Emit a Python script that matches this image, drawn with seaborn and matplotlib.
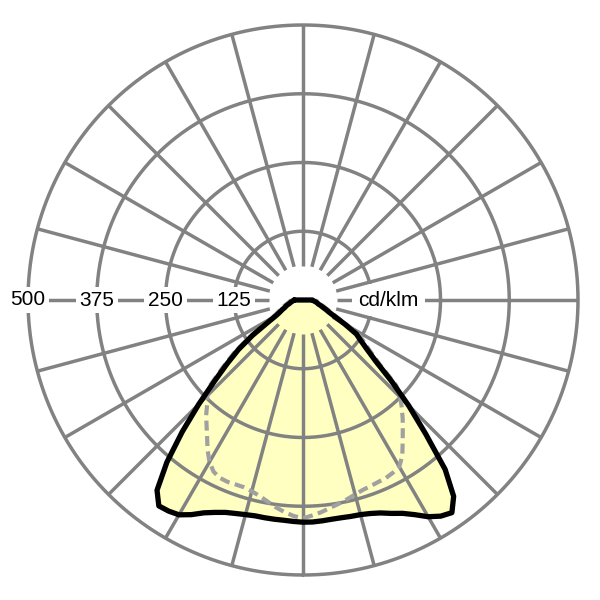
import numpy as np
import pandas as pd
import matplotlib
matplotlib.use("Agg")
import matplotlib.pyplot as plt
import seaborn as sns

# gamma angles (deg from nadir, negative = left side)
angles_deg = [-90, -87.5, -85, -82.5, -80, -77.5, -75, -72.5, -70, -67.5,
              -65, -62.5, -60, -57.5, -55, -52.5, -50, -47.5, -45, -42.5,
              -40, -37.5, -35, -32.5, -30, -27.5, -25, -22.5, -20, -17.5,
              -15, -12.5, -10, -7.5, -5, -2.5, 0, 2.5, 5, 7.5,
              10, 12.5, 15, 17.5, 20, 22.5, 25, 27.5, 30, 32.5,
              35, 37.5, 40, 42.5, 45, 47.5, 50, 52.5, 55, 57.5,
              60, 62.5, 65, 67.5, 70, 72.5, 75, 77.5, 80, 82.5,
              85, 87.5, 90]

# C0-C180 plane (solid, filled)
c0_c180 = [16, 17, 19, 20, 22, 24, 26, 30, 33, 36,
           42, 47, 56, 76, 112, 148, 180, 218, 268, 325,
           385, 436, 457, 455, 451, 440, 427, 418, 411, 407,
           404, 402, 402, 402, 402, 403, 404, 404, 403, 402,
           402, 403, 404, 407, 412, 420, 428, 440, 455, 466,
           472, 450, 402, 330, 272, 218, 172, 146, 128, 115,
           88, 65, 52, 45, 38, 34, 29, 27, 25, 22,
           20, 18, 17]

# C90-C270 plane (dashed)
c90_c270 = [21, 22, 24, 25, 27, 29, 32, 36, 39, 43,
            49, 55, 65, 85, 121, 158, 190, 228, 246, 258,
            274, 288, 304, 323, 340, 352, 357, 358, 357, 357,
            360, 365, 372, 380, 387, 393, 397, 392, 387, 381,
            376, 371, 366, 362, 360, 358, 357, 354, 350, 336,
            316, 298, 282, 266, 250, 230, 182, 155, 137, 124,
            97, 74, 60, 52, 45, 40, 35, 32, 30, 27,
            25, 23, 22]

ring_values = [125, 250, 375, 500]
ring_labels = ["125", "250", "375", "500"]
unit_label = "cd/klm"

GRID = "#828282"
FILL = "#ffffc2"

sns.set_theme(style="white")
plt.rcParams["font.family"] = ["Liberation Sans", "DejaVu Sans"]

df = pd.DataFrame({
    "theta": np.deg2rad(angles_deg),
    "c0": c0_c180,
    "c90": c90_c270,
})

# close the C0-C180 outline across the top (-90 deg == 270 deg)
closed = pd.concat([df, df.iloc[[0]].assign(theta=df["theta"].iloc[0] + 2 * np.pi)],
                   ignore_index=True)

fig = plt.figure(figsize=(6, 6), dpi=100)
ax = fig.add_axes([28 / 600, 25 / 600, 550 / 600, 550 / 600], projection="polar")
ax.set_theta_zero_location("S")
ax.set_theta_direction(1)
ax.grid(False)
ax.set_xticks([])
ax.set_yticks([])
ax.spines["polar"].set_visible(False)
ax.set_facecolor("white")

# light distribution fill
ax.fill(df["theta"], df["c0"], color=FILL, zorder=0.5, lw=0)

# rings
circ = np.linspace(0, 2 * np.pi, 721)
for r in ring_values:
    ax.plot(circ, np.full_like(circ, r), color=GRID, lw=2.5, zorder=1, clip_on=False)

# spokes every 15 degrees, starting off-centre
for a in range(0, 360, 15):
    z = 1 if a in (90, 270) else 2.5
    ax.plot([np.deg2rad(a)] * 2, [62.5, 500], color=GRID, lw=2.5, zorder=z,
            clip_on=False, solid_capstyle="butt")

# scale labels on the left, unit on the right
for r, lab in zip(ring_values, ring_labels):
    ax.text(np.deg2rad(-90), r, lab, ha="center", va="center", fontsize=15,
            color="black", zorder=2,
            bbox=dict(fc="white", ec="none", boxstyle="square,pad=0.18"))
ax.text(np.deg2rad(90), 155, unit_label, ha="center", va="center", fontsize=15,
        color="black", zorder=2,
        bbox=dict(fc="white", ec="none", boxstyle="square,pad=0.3"))

sns.lineplot(data=df, x="theta", y="c90", sort=False, estimator=None, ax=ax,
             color="#a0a0a0", lw=3, linestyle=(0, (2.4, 1.3)), zorder=4)
sns.lineplot(data=closed, x="theta", y="c0", sort=False, estimator=None, ax=ax,
             color="black", lw=3.8, zorder=5)

ax.set_xlabel("")
ax.set_ylabel("")
ax.set_ylim(0, 500)

fig.savefig("out.png", dpi=100, facecolor="white")
